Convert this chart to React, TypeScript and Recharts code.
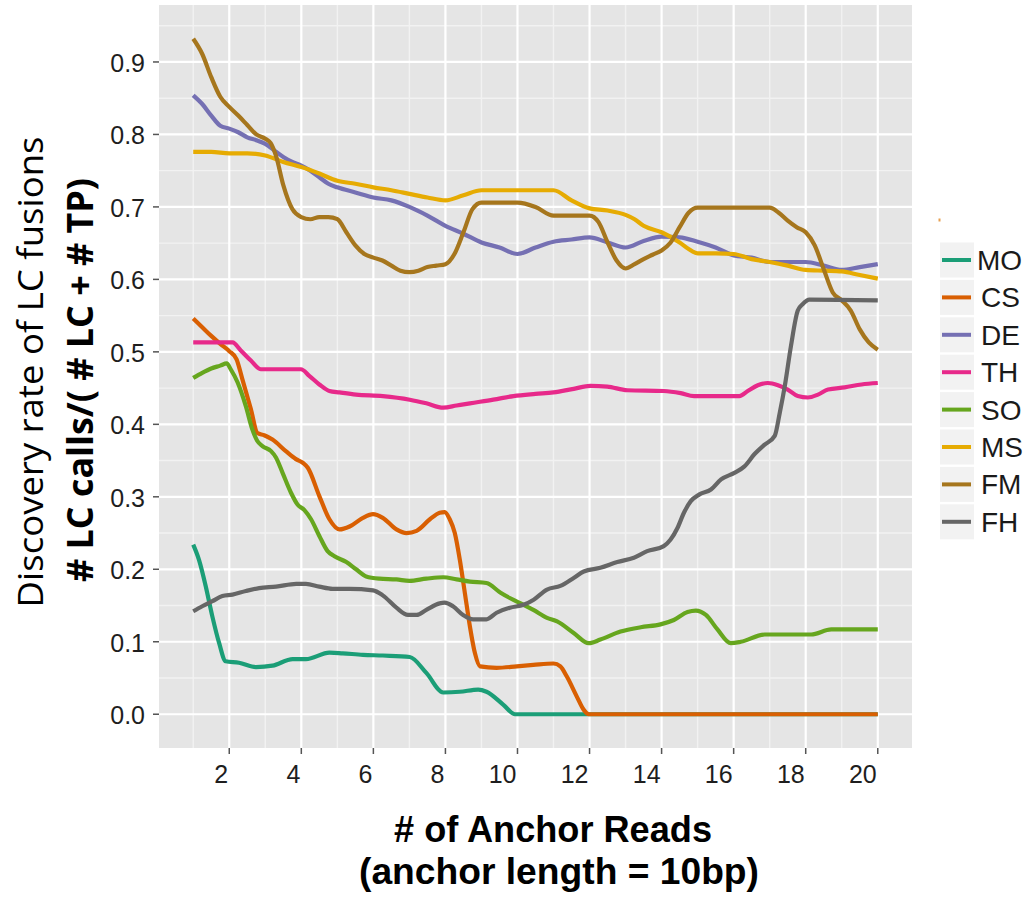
import React from "react";
import { LineChart, Line, XAxis, YAxis, CartesianGrid } from "recharts";

// ---- data (x = # of anchor reads, y = discovery rate) ----
const SERIES_NAMES = ["MO", "CS", "DE", "TH", "SO", "MS", "FM", "FH"];
const SERIES_COLORS = ["#1B9E77", "#D95F02", "#7570B3", "#E7298A", "#66A61E", "#E6AB02", "#A6761D", "#666666"];

const MO: number[][] = [[1, 0.234], [1.16, 0.213], [1.35, 0.176], [1.53, 0.135], [1.72, 0.098], [1.9, 0.073], [2.27, 0.071], [2.74, 0.065], [3.2, 0.067], [3.76, 0.076], [4.13, 0.076], [4.78, 0.085], [5.15, 0.084], [5.71, 0.082], [6.26, 0.081], [7.01, 0.079], [7.47, 0.057], [7.94, 0.03], [8.4, 0.031], [8.91, 0.034], [9.14, 0.031], [9.61, 0.013], [9.93, 0.0], [12, 0], [20, 0]];
const CS: number[][] = [[1, 0.546], [1.25, 0.534], [1.5, 0.522], [1.75, 0.511], [2, 0.501], [2.2, 0.49], [2.365, 0.462], [2.6, 0.421], [2.78, 0.388], [2.97, 0.385], [3.2, 0.379], [3.57, 0.363], [3.85, 0.352], [4.04, 0.347], [4.18, 0.34], [4.5, 0.301], [4.78, 0.269], [5.06, 0.255], [5.34, 0.259], [5.71, 0.271], [5.99, 0.276], [6.26, 0.271], [6.64, 0.255], [6.92, 0.25], [7.2, 0.253], [7.57, 0.269], [7.84, 0.278], [7.98, 0.279], [8.12, 0.269], [8.26, 0.25], [8.4, 0.213], [8.54, 0.167], [8.68, 0.121], [8.82, 0.084], [8.96, 0.066], [9.42, 0.064], [9.98, 0.066], [10.44, 0.068], [11.0, 0.07], [11.19, 0.066], [11.37, 0.052], [11.65, 0.024], [11.84, 0.006], [11.98, 0.0], [20, 0]];
const DE: number[][] = [[1, 0.854], [1.25, 0.842], [1.5, 0.826], [1.75, 0.812], [2, 0.808], [2.25, 0.803], [2.5, 0.796], [2.75, 0.792], [3, 0.787], [3.25, 0.778], [3.5, 0.769], [3.75, 0.762], [4, 0.757], [4.25, 0.75], [4.5, 0.741], [4.75, 0.732], [5, 0.727], [5.5, 0.72], [6, 0.713], [6.5, 0.709], [7, 0.7], [7.5, 0.688], [8, 0.674], [8.5, 0.663], [9, 0.651], [9.5, 0.644], [10, 0.635], [10.5, 0.644], [11, 0.652], [11.5, 0.655], [12, 0.658], [12.5, 0.651], [13, 0.644], [13.5, 0.653], [14, 0.659], [14.5, 0.658], [15, 0.652], [15.5, 0.644], [16, 0.633], [16.5, 0.63], [17, 0.624], [17.5, 0.624], [18, 0.624], [18.5, 0.619], [19, 0.613], [19.5, 0.617], [20, 0.621]];
const TH: number[][] = [[1, 0.513], [2.09, 0.513], [2.32, 0.502], [2.6, 0.488], [2.88, 0.476], [3.99, 0.476], [4.22, 0.467], [4.5, 0.455], [4.78, 0.446], [5.06, 0.444], [5.52, 0.441], [6.26, 0.439], [7.01, 0.434], [7.47, 0.429], [7.94, 0.423], [8.31, 0.426], [8.68, 0.429], [9.33, 0.434], [9.89, 0.439], [10.5, 0.442], [11.0, 0.444], [11.56, 0.449], [12.02, 0.453], [12.49, 0.452], [13.05, 0.447], [14.06, 0.446], [14.53, 0.443], [14.9, 0.439], [16.16, 0.439], [16.39, 0.446], [16.67, 0.454], [16.95, 0.457], [17.23, 0.454], [17.5, 0.448], [17.78, 0.439], [18.06, 0.437], [18.34, 0.441], [18.62, 0.448], [19.08, 0.451], [19.55, 0.455], [20, 0.457]];
const SO: number[][] = [[1, 0.464], [1.25, 0.471], [1.5, 0.477], [1.75, 0.481], [1.93, 0.484], [2.04, 0.476], [2.23, 0.458], [2.46, 0.425], [2.64, 0.393], [2.78, 0.377], [2.92, 0.37], [3.16, 0.363], [3.3, 0.354], [3.48, 0.333], [3.71, 0.306], [3.9, 0.289], [4.08, 0.282], [4.27, 0.269], [4.5, 0.246], [4.73, 0.225], [4.92, 0.218], [5.25, 0.21], [5.52, 0.2], [5.8, 0.19], [6.17, 0.187], [6.64, 0.186], [7.0, 0.184], [7.47, 0.187], [7.94, 0.189], [8.31, 0.186], [8.68, 0.183], [9.14, 0.181], [9.52, 0.168], [9.8, 0.16], [10.17, 0.151], [10.44, 0.144], [10.82, 0.133], [11.1, 0.128], [11.56, 0.112], [11.98, 0.098], [12.3, 0.103], [12.86, 0.114], [13.42, 0.12], [13.97, 0.124], [14.34, 0.13], [14.72, 0.141], [14.95, 0.143], [15.23, 0.137], [15.55, 0.117], [15.92, 0.098], [16.2, 0.1], [16.86, 0.11], [18.15, 0.11], [18.71, 0.117], [20, 0.117]];
const MS: number[][] = [[1, 0.776], [1.5, 0.776], [2, 0.774], [2.5, 0.774], [3, 0.771], [3.5, 0.762], [4, 0.755], [4.5, 0.746], [5, 0.736], [5.5, 0.732], [6, 0.727], [6.5, 0.723], [7, 0.718], [7.5, 0.713], [8, 0.709], [8.5, 0.716], [9, 0.723], [10, 0.723], [11, 0.723], [11.5, 0.709], [12, 0.698], [12.5, 0.695], [13, 0.689], [13.25, 0.683], [13.5, 0.674], [14, 0.665], [14.5, 0.651], [14.75, 0.642], [15, 0.636], [15.5, 0.636], [16, 0.635], [16.5, 0.628], [17, 0.624], [17.5, 0.619], [18, 0.613], [18.5, 0.612], [19, 0.611], [19.5, 0.606], [20, 0.601]];
const FM: number[][] = [[1, 0.932], [1.25, 0.911], [1.5, 0.879], [1.75, 0.852], [2, 0.838], [2.25, 0.826], [2.5, 0.813], [2.75, 0.8], [3, 0.794], [3.15, 0.788], [3.3, 0.77], [3.5, 0.73], [3.75, 0.697], [4, 0.686], [4.25, 0.683], [4.5, 0.686], [4.75, 0.686], [5, 0.683], [5.25, 0.665], [5.5, 0.647], [5.75, 0.635], [6, 0.63], [6.25, 0.626], [6.5, 0.619], [6.75, 0.612], [7, 0.61], [7.25, 0.612], [7.5, 0.617], [7.75, 0.619], [8, 0.621], [8.25, 0.635], [8.5, 0.665], [8.75, 0.697], [9, 0.706], [9.5, 0.706], [10, 0.706], [10.5, 0.7], [11, 0.688], [11.5, 0.688], [12, 0.688], [12.25, 0.679], [12.5, 0.651], [12.75, 0.626], [13, 0.615], [13.25, 0.621], [13.5, 0.628], [13.75, 0.634], [14, 0.64], [14.25, 0.651], [14.5, 0.672], [14.75, 0.692], [15, 0.699], [16, 0.699], [17, 0.699], [17.25, 0.692], [17.5, 0.681], [17.75, 0.672], [18, 0.665], [18.25, 0.647], [18.5, 0.614], [18.75, 0.582], [19, 0.571], [19.25, 0.557], [19.5, 0.531], [19.75, 0.513], [20, 0.503]];
const FH: number[][] = [[1, 0.142], [1.25, 0.149], [1.53, 0.156], [1.81, 0.163], [2.09, 0.165], [2.46, 0.17], [2.83, 0.174], [3.3, 0.176], [3.86, 0.18], [4.13, 0.18], [4.5, 0.176], [4.87, 0.173], [5.34, 0.173], [5.99, 0.171], [6.26, 0.164], [6.64, 0.147], [6.96, 0.137], [7.2, 0.137], [7.47, 0.144], [7.84, 0.153], [7.98, 0.154], [8.21, 0.149], [8.49, 0.137], [8.77, 0.131], [9.14, 0.131], [9.42, 0.14], [9.79, 0.147], [10.17, 0.151], [10.45, 0.158], [10.82, 0.172], [11.19, 0.177], [11.56, 0.188], [11.84, 0.197], [12.3, 0.202], [12.77, 0.21], [13.23, 0.216], [13.6, 0.225], [14.06, 0.232], [14.25, 0.241], [14.44, 0.257], [14.62, 0.278], [14.81, 0.294], [15.04, 0.303], [15.37, 0.31], [15.65, 0.324], [16.02, 0.333], [16.3, 0.342], [16.58, 0.359], [16.86, 0.372], [17.14, 0.384], [17.28, 0.416], [17.42, 0.453], [17.59, 0.508], [17.78, 0.557], [17.92, 0.566], [18.1, 0.572], [20, 0.571]];

const SERIES_DATA = [MO, CS, DE, TH, SO, MS, FM, FH];

const X_TICKS = [2, 4, 6, 8, 10, 12, 14, 16, 18, 20];
const X_MINOR = [1, 3, 5, 7, 9, 11, 13, 15, 17, 19];
const Y_TICKS = [0, 0.1, 0.2, 0.3, 0.4, 0.5, 0.6, 0.7, 0.8, 0.9];
const Y_MINOR = [0.05, 0.15, 0.25, 0.35, 0.45, 0.55, 0.65, 0.75, 0.85, 0.95];

const X_TITLE = ["# of Anchor Reads", "(anchor length = 10bp)"];
const Y_TITLE = ["Discovery rate of LC fusions", "# LC calls/( # LC + # TP)"];

const W = 1030;
const H = 898;
const TICK_FONT = "'Liberation Sans', Arial, sans-serif";
const TITLE_FONT = "'Open Sans', 'Noto Sans', sans-serif";

const XTick = (props: any) => {
  const { x, y, payload } = props;
  return (
    <text x={x - 1} y={y + 27} textAnchor="end" fontFamily={TICK_FONT} fontSize={25} fill="#1e1e1e">
      {payload.value}
    </text>
  );
};

const YTick = (props: any) => {
  const { x, y, payload } = props;
  return (
    <text x={x - 6} y={y + 10} textAnchor="end" fontFamily={TICK_FONT} fontSize={25} fill="#1e1e1e">
      {Number(payload.value).toFixed(1)}
    </text>
  );
};

export default function App() {
  const legendTop = 260;
  const legendStep = 37.4;
  return (
    <div style={{ position: "absolute", left: 0, top: 0, width: W, height: H, background: "#fff" }}>
      <LineChart width={W} height={H} margin={{ top: 5, right: 118, bottom: 110, left: 99 }}>
        <CartesianGrid
          fill="#E5E5E5"
          stroke="#F2F2F2"
          strokeWidth={1.4}
          horizontalValues={Y_MINOR}
          verticalValues={X_MINOR}
        />
        <CartesianGrid
          stroke="#FFFFFF"
          strokeWidth={2.2}
          horizontalValues={Y_TICKS}
          verticalValues={X_TICKS}
        />
        <XAxis
          type="number"
          dataKey="x"
          domain={[0.05, 20.95]}
          ticks={X_TICKS}
          allowDataOverflow
          axisLine={false}
          tickLine={{ stroke: "#555", strokeWidth: 1.5 }}
          tickSize={6}
          tickMargin={2}
          height={40}
          tick={<XTick />}
          interval={0}
        />
        <YAxis
          type="number"
          domain={[-0.0466, 0.9786]}
          ticks={Y_TICKS}
          allowDataOverflow
          axisLine={false}
          tickLine={{ stroke: "#555", strokeWidth: 1.5 }}
          tickSize={6}
          tickMargin={2}
          width={60}
          tick={<YTick />}
          interval={0}
        />
        {SERIES_NAMES.map((name, i) => (
          <Line
            key={name}
            name={name}
            data={SERIES_DATA[i].map(([x, y]) => ({ x, y }))}
            dataKey="y"
            type="monotone"
            stroke={SERIES_COLORS[i]}
            strokeWidth={4.2}
            dot={false}
            activeDot={false}
            isAnimationActive={false}
            strokeLinejoin="round"
          />
        ))}
      </LineChart>
      <svg width={W} height={H} style={{ position: "absolute", left: 0, top: 0, pointerEvents: "none" }}>
        {/* y titles */}
        <text
          transform="translate(43,372) rotate(-90)"
          textAnchor="middle"
          fontFamily={TITLE_FONT}
          fontSize={35}
          fill="#000"
          textLength={471}
          lengthAdjust="spacingAndGlyphs"
        >
          {Y_TITLE[0]}
        </text>
        <text
          transform="translate(93,380) rotate(-90)"
          textAnchor="middle"
          fontFamily={TITLE_FONT}
          fontWeight="bold"
          fontSize={35}
          fill="#000"
          textLength={404}
          lengthAdjust="spacingAndGlyphs"
        >
          {Y_TITLE[1]}
        </text>
        {/* x titles */}
        <text x={553} y={842} textAnchor="middle" fontFamily={TICK_FONT} fontWeight="bold" fontSize={36} fill="#000" textLength={318} lengthAdjust="spacingAndGlyphs">
          {X_TITLE[0]}
        </text>
        <text x={559} y={884} textAnchor="middle" fontFamily={TICK_FONT} fontWeight="bold" fontSize={36} fill="#000" textLength={400} lengthAdjust="spacingAndGlyphs">
          {X_TITLE[1]}
        </text>
        {/* legend */}
        <rect x={938.5} y={218.5} width={2} height={3} fill="#E8A050" />
        {SERIES_NAMES.map((name, i) => {
          const cy = legendTop + i * legendStep;
          return (
            <g key={name}>
              <rect x={940} y={cy - 17.5} width={34} height={35} fill="#F2F2F2" />
              <line x1={942} x2={971} y1={cy} y2={cy} stroke={SERIES_COLORS[i]} strokeWidth={4} />
              <text x={i === 0 ? 977 : 981} y={cy + 10} fontFamily={TICK_FONT} fontSize={28} fill="#1a1a1a">
                {name}
              </text>
            </g>
          );
        })}
      </svg>
    </div>
  );
}
